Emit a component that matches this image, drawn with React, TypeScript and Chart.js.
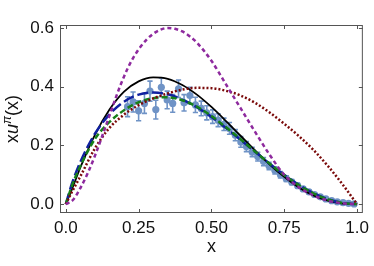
import React, { useEffect, useRef } from "react";
import { Chart, registerables } from "chart.js";

Chart.register(...registerables);

// ---- tick labels ----
const xTickValues = [0, 0.25, 0.5, 0.75, 1];
const xTickLabels = ["0.0", "0.25", "0.50", "0.75", "1.0"];
const yTickValues = [0, 0.2, 0.4, 0.6];
const yTickLabels = ["0.0", "0.2", "0.4", "0.6"];

// ---- model curves ----
const curveX = [0, 0.02, 0.05, 0.1, 0.15, 0.2, 0.25, 0.3, 0.35, 0.4, 0.45, 0.5, 0.55, 0.6, 0.65, 0.7, 0.75, 0.8, 0.85, 0.9, 0.95, 1];
const blackCurve = [0, 0.048, 0.125, 0.236, 0.322, 0.383, 0.418, 0.432, 0.427, 0.406, 0.373, 0.331, 0.283, 0.233, 0.183, 0.135, 0.093, 0.057, 0.03, 0.012, 0.002, 0];
const blueCurve = [0, 0.067, 0.144, 0.24, 0.306, 0.349, 0.373, 0.38, 0.374, 0.356, 0.33, 0.297, 0.259, 0.219, 0.178, 0.138, 0.1, 0.066, 0.038, 0.017, 0.004, 0];
const greenCurve = [0, 0.06, 0.13, 0.222, 0.28, 0.32, 0.347, 0.361, 0.364, 0.354, 0.332, 0.3, 0.262, 0.221, 0.179, 0.138, 0.099, 0.065, 0.037, 0.016, 0.004, 0];
const redCurve = [0, 0.04, 0.095, 0.19, 0.26, 0.305, 0.337, 0.36, 0.377, 0.39, 0.396, 0.395, 0.386, 0.37, 0.345, 0.312, 0.274, 0.232, 0.185, 0.13, 0.068, 0];

const purpleX = [0, 0.025, 0.05, 0.075, 0.1, 0.125, 0.15, 0.175, 0.2, 0.225, 0.25, 0.275, 0.3, 0.325, 0.35, 0.375, 0.4, 0.425, 0.45, 0.5, 0.55, 0.6, 0.65, 0.7, 0.75, 0.8, 0.85, 0.9, 0.95, 1];
const purpleCurve = [0, 0.015, 0.055, 0.105, 0.165, 0.232, 0.302, 0.372, 0.435, 0.487, 0.527, 0.558, 0.58, 0.594, 0.6, 0.597, 0.588, 0.572, 0.55, 0.488, 0.408, 0.327, 0.246, 0.168, 0.1, 0.058, 0.03, 0.012, 0.003, 0];

// ---- lattice data points ----
const dataX = [0.212, 0.231, 0.25, 0.27, 0.289, 0.309, 0.328, 0.348, 0.367, 0.387, 0.406, 0.426, 0.445, 0.465, 0.484, 0.504, 0.523, 0.543, 0.562, 0.582, 0.601, 0.62, 0.64, 0.659, 0.679, 0.698, 0.718, 0.737, 0.757, 0.776, 0.796, 0.815, 0.835, 0.854, 0.874, 0.893, 0.913, 0.932, 0.952, 0.971, 0.99];
const dataY = [0.332, 0.348, 0.318, 0.343, 0.385, 0.322, 0.398, 0.355, 0.343, 0.393, 0.345, 0.37, 0.338, 0.326, 0.311, 0.298, 0.286, 0.272, 0.258, 0.235, 0.212, 0.196, 0.178, 0.162, 0.145, 0.13, 0.115, 0.1, 0.087, 0.075, 0.063, 0.052, 0.042, 0.033, 0.025, 0.018, 0.012, 0.008, 0.005, 0.003, 0.001];
const dataErr = [0.034, 0.034, 0.034, 0.034, 0.034, 0.032, 0.032, 0.03, 0.03, 0.03, 0.028, 0.028, 0.026, 0.025, 0.024, 0.023, 0.022, 0.021, 0.02, 0.019, 0.018, 0.017, 0.016, 0.015, 0.014, 0.013, 0.012, 0.011, 0.01, 0.009, 0.008, 0.007, 0.006, 0.005, 0.004, 0.003, 0.002, 0.002, 0.001, 0.001, 0.001];

const FONT = "'Liberation Sans', Arial, sans-serif";
const POINT_COLOR = "#6f93c6";

const toPts = (xs: number[], ys: number[]) => xs.map((x, i) => ({ x, y: ys[i] }));

const framePlugin = {
  id: "frameTicks",
  afterDraw(chart: any) {
    const { ctx, chartArea: a, scales } = chart;
    const xs = scales.x;
    const ys = scales.y;
    ctx.save();
    ctx.strokeStyle = "#555";
    ctx.lineWidth = 1;
    ctx.strokeRect(a.left + 0.5, a.top + 0.5, a.right - a.left - 1, a.bottom - a.top - 1);
    const L = 4;
    ctx.beginPath();
    xTickValues.forEach((v) => {
      const px = Math.round(xs.getPixelForValue(v)) + 0.5;
      ctx.moveTo(px, a.bottom);
      ctx.lineTo(px, a.bottom - L);
      ctx.moveTo(px, a.top);
      ctx.lineTo(px, a.top + L);
    });
    yTickValues.forEach((v) => {
      const py = Math.round(ys.getPixelForValue(v)) + 0.5;
      ctx.moveTo(a.left, py);
      ctx.lineTo(a.left + L, py);
      ctx.moveTo(a.right, py);
      ctx.lineTo(a.right - L, py);
    });
    ctx.stroke();

    // axis titles
    ctx.fillStyle = "#111";
    ctx.textBaseline = "alphabetic";
    ctx.font = `18px ${FONT}`;
    ctx.textAlign = "center";
    ctx.fillText("x", (a.left + a.right) / 2, 252);

    // y title: x u^π (x)
    const parts = [
      { t: "x", f: `18px ${FONT}`, dy: 0 },
      { t: "u", f: `italic 18px ${FONT}`, dy: 0 },
      { t: "π", f: `italic 12px ${FONT}`, dy: -7 },
      { t: "(x)", f: `18px ${FONT}`, dy: 0 },
    ];
    ctx.textAlign = "left";
    let total = 0;
    const widths = parts.map((p) => {
      ctx.font = p.f;
      const w = ctx.measureText(p.t).width;
      total += w;
      return w;
    });
    ctx.translate(18, (a.top + a.bottom) / 2);
    ctx.rotate(-Math.PI / 2);
    let cx = -total / 2;
    parts.forEach((p, i) => {
      ctx.font = p.f;
      ctx.fillText(p.t, cx, p.dy);
      cx += widths[i];
    });
    ctx.restore();
  },
};

const errorBarPlugin = {
  id: "errorBars",
  beforeDatasetDraw(chart: any, args: any) {
    const ds = chart.data.datasets[args.index];
    if (!ds.isData) return;
    const { ctx, scales } = chart;
    ctx.save();
    ctx.strokeStyle = POINT_COLOR;
    ctx.lineWidth = 1.6;
    ctx.beginPath();
    dataX.forEach((x, i) => {
      const px = scales.x.getPixelForValue(x);
      const top = scales.y.getPixelForValue(dataY[i] + dataErr[i]);
      const bot = scales.y.getPixelForValue(dataY[i] - dataErr[i]);
      ctx.moveTo(px, top);
      ctx.lineTo(px, bot);
      ctx.moveTo(px - 2.6, top);
      ctx.lineTo(px + 2.6, top);
      ctx.moveTo(px - 2.6, bot);
      ctx.lineTo(px + 2.6, bot);
    });
    ctx.stroke();
    ctx.restore();
  },
};

export default function App() {
  const ref = useRef<HTMLCanvasElement>(null);
  useEffect(() => {
    document.body.style.margin = "0";
    const line = (xs: number[], ys: number[], color: string, dash: number[], width: number) => ({
      type: "line" as const,
      data: toPts(xs, ys),
      borderColor: color,
      borderWidth: width,
      borderDash: dash,
      pointRadius: 0,
      fill: false,
      cubicInterpolationMode: "monotone" as const,
    });
    const chart = new Chart(ref.current!, {
      type: "line",
      data: {
        datasets: [
          line(purpleX, purpleCurve, "#8e2a9e", [4, 3], 2.5),
          line(curveX, redCurve, "#7a0a0a", [2, 2], 2.5),
          line(curveX, greenCurve, "#17801a", [6, 3], 2.5),
          line(curveX, blueCurve, "#1020a0", [11, 4], 2.5),
          line(curveX, blackCurve, "#000000", [], 1.8),
          {
            type: "scatter" as const,
            isData: true,
            data: toPts(dataX, dataY),
            backgroundColor: POINT_COLOR,
            borderWidth: 0,
            pointRadius: 3.6,
            showLine: false,
          } as any,
        ],
      },
      options: {
        animation: false,
        responsive: false,
        layout: { padding: { top: 25, right: 8, left: 0, bottom: 0 } },
        plugins: { legend: { display: false }, tooltip: { enabled: false }, title: { display: false } },
        scales: {
          x: {
            type: "linear",
            min: -0.02,
            max: 1.02,
            grid: { display: false, drawTicks: false },
            border: { display: false },
            afterBuildTicks: (s: any) => {
              s.ticks = xTickValues.map((v) => ({ value: v }));
            },
            afterFit: (s: any) => {
              s.height = 53;
            },
            ticks: {
              autoSkip: false,
              maxRotation: 0,
              padding: 5,
              color: "#111",
              font: { family: FONT, size: 17 },
              callback: (v: any) => {
                const i = xTickValues.findIndex((t) => Math.abs(t - v) < 1e-9);
                return i >= 0 ? xTickLabels[i] : "";
              },
            },
          },
          y: {
            type: "linear",
            min: -0.03,
            max: 0.61,
            grid: { display: false, drawTicks: false },
            border: { display: false },
            afterBuildTicks: (s: any) => {
              s.ticks = yTickValues.map((v) => ({ value: v }));
            },
            afterFit: (s: any) => {
              s.width = 60;
            },
            ticks: {
              autoSkip: false,
              padding: 6,
              color: "#111",
              font: { family: FONT, size: 17 },
              callback: (v: any) => {
                const i = yTickValues.findIndex((t) => Math.abs(t - v) < 1e-9);
                return i >= 0 ? yTickLabels[i] : "";
              },
            },
          },
        },
      },
      plugins: [framePlugin, errorBarPlugin],
    });
    return () => chart.destroy();
  }, []);
  return (
    <div style={{ width: 374, height: 266 }}>
      <canvas ref={ref} width={374} height={266} style={{ display: "block" }} />
    </div>
  );
}
